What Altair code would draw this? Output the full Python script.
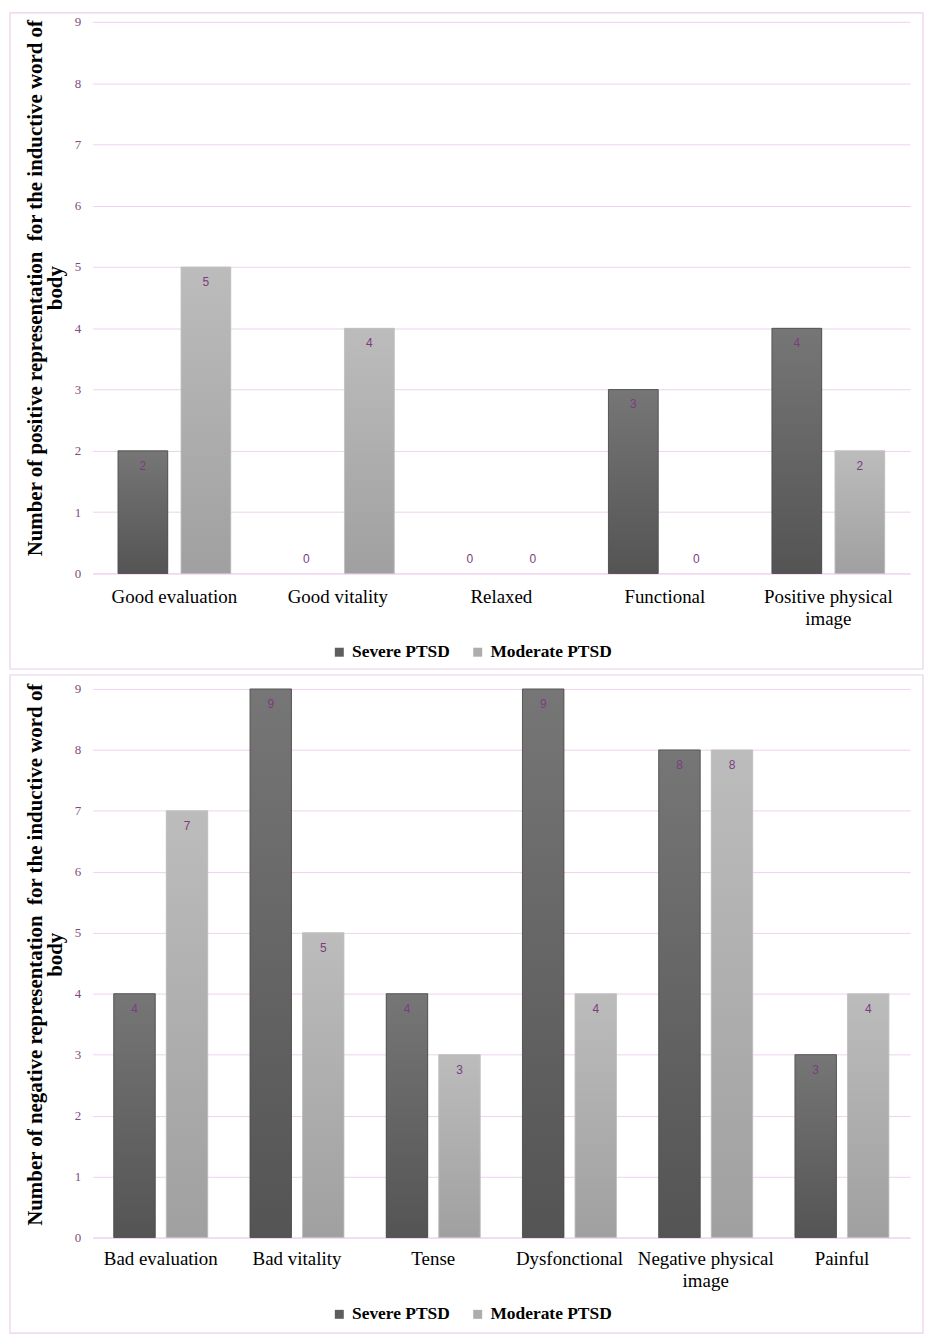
import altair as alt
import pandas as pd

# ---- data ----
pos_categories = ["Good evaluation", "Good vitality", "Relaxed", "Functional", "Positive physical image"]
pos_severe = [2, 0, 0, 3, 4]
pos_moderate = [5, 4, 0, 0, 2]

neg_categories = ["Bad evaluation", "Bad vitality", "Tense", "Dysfonctional", "Negative physical image", "Painful"]
neg_severe = [4, 9, 4, 9, 8, 3]
neg_moderate = [7, 5, 3, 4, 8, 4]

series_names = ["Severe PTSD", "Moderate PTSD"]
pos_title = ["Number of positive representation\u00a0 for the inductive word of", "body"]
neg_title = ["Number of negative representation\u00a0 for the inductive word of", "body"]
y_ticks = [0, 1, 2, 3, 4, 5, 6, 7, 8, 9]

# ---- styles ----
SERIF = "Liberation Serif"
GRID = "#edd3ed"
BORDER = "#ead0ea"
TICK_COLOR = "#7a4d7c"
LABEL_COLOR = "#7b3d80"

sev_grad = alt.LinearGradient(
    gradient="linear", x1=0, x2=0, y1=0, y2=1,
    stops=[alt.GradientStop(color="#767676", offset=0), alt.GradientStop(color="#545454", offset=1)],
)
mod_grad = alt.LinearGradient(
    gradient="linear", x1=0, x2=0, y1=0, y2=1,
    stops=[alt.GradientStop(color="#bcbcbc", offset=0), alt.GradientStop(color="#a0a0a0", offset=1)],
)

LABEL_EXPR = ("datum.label == 'Positive physical image' ? ['Positive physical', 'image'] : "
              "datum.label == 'Negative physical image' ? ['Negative physical', 'image'] : datum.label")


def frame(categories, severe, moderate):
    rows = []
    for c, s, m in zip(categories, severe, moderate):
        rows.append({"category": c, "series": "Severe PTSD", "value": s})
        rows.append({"category": c, "series": "Moderate PTSD", "value": m})
    return pd.DataFrame(rows)


def panel(categories, severe, moderate, title, height, legend_y, title_y, label_pad, box):
    df = frame(categories, severe, moderate)
    x = alt.X(
        "category:N", sort=categories, title=None,
        scale=alt.Scale(paddingInner=0.31, paddingOuter=0.155),
        axis=alt.Axis(labelAngle=0, labelFont=SERIF, labelFontSize=19, labelColor="black",
                      labelPadding=label_pad, ticks=False, domainColor=GRID, domainWidth=1,
                      labelExpr=LABEL_EXPR, labelLineHeight=22, grid=False, labelLimit=300),
    )
    xo = alt.XOffset("series:N", sort=series_names,
                     scale=alt.Scale(domain=series_names, paddingInner=0.21, paddingOuter=0))
    y = alt.Y(
        "value:Q", scale=alt.Scale(domain=[0, 9], nice=False), title=title,
        axis=alt.Axis(values=y_ticks, grid=True, gridColor=GRID, gridWidth=1, domain=False,
                      ticks=False, labelColor=TICK_COLOR, labelFont=SERIF, labelFontSize=13,
                      labelPadding=12, titleFont=SERIF, titleFontSize=21, titleFontWeight="bold",
                      titleColor="black", titlePadding=9, titleLineHeight=20, titleY=title_y),
    )
    base = alt.Chart(df).encode(x=x, xOffset=xo, y=y)
    nonzero = base.transform_filter(alt.datum.value > 0)

    legend_bars = nonzero.mark_bar().encode(
        color=alt.Color(
            "series:N", sort=series_names,
            scale=alt.Scale(domain=series_names, range=["#5e5e5e", "#adadad"]),
            legend=alt.Legend(title=None, orient="none", legendX=239, legendY=legend_y,
                              direction="horizontal", symbolType="square", symbolSize=81,
                              symbolStrokeWidth=0, labelFont=SERIF, labelFontSize=17.5,
                              labelFontWeight="bold", labelColor="black", columnPadding=19,
                              labelOffset=4, padding=0),
        )
    )
    sev = nonzero.transform_filter(alt.datum.series == "Severe PTSD").mark_bar(
        fill=sev_grad, stroke="#4c4c4c", strokeWidth=0.8)
    mod = nonzero.transform_filter(alt.datum.series == "Moderate PTSD").mark_bar(
        fill=mod_grad, stroke="#c4c4c4", strokeWidth=0.8)

    text_pos = nonzero.mark_text(
        dy=15, baseline="middle", font="Liberation Sans", fontSize=12, color=LABEL_COLOR
    ).encode(text="value:Q")
    text_zero = base.transform_filter(alt.datum.value == 0).mark_text(
        dy=-14, baseline="middle", font="Liberation Sans", fontSize=12, color=LABEL_COLOR
    ).encode(text="value:Q")

    border = alt.Chart(pd.DataFrame({"k": [0]})).mark_rect(
        fillOpacity=0, stroke=BORDER, strokeWidth=1.2
    ).encode(x=alt.value(box[0]), x2=alt.value(box[1]), y=alt.value(box[2]), y2=alt.value(box[3]))

    return alt.layer(legend_bars, sev, mod, text_pos, text_zero, border).properties(
        width=821, height=height)


top = panel(pos_categories, pos_severe, pos_moderate, pos_title, 554, 624, 267, 14,
            (-83, 834, -9, 650))
bottom = panel(neg_categories, neg_severe, neg_moderate, neg_title, 551, 619, 266.5, 12,
               (-83, 834, -14, 647))

chart = alt.vconcat(top, bottom, spacing=2).resolve_scale(
    x="independent", xOffset="independent", y="independent", color="independent"
).resolve_legend(color="independent").properties(
    padding={"left": 0, "top": 0, "right": 0, "bottom": 0},
    autosize=alt.AutoSizeParams(type="pad"),
    background="white",
).configure_view(stroke="transparent")

chart.save("out.html", embed_options={"renderer": "svg", "actions": False})
